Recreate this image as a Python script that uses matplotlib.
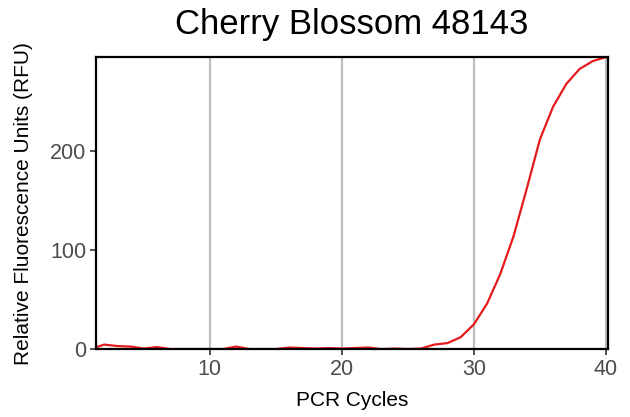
import matplotlib.pyplot as plt

plt.rcParams['font.family'] = ['Liberation Sans', 'DejaVu Sans']

# values
cycles = list(range(1, 41))
rfu = [0, 4.5, 3, 2.5, 0.5, 2, 0, 0, 0, 0,
       0, 2.5, 0, 0, 0, 1.5, 1, 0.5, 1, 0.5,
       1, 1.5, 0, 0.5, 0, 0.5, 4.5, 6, 12, 25,
       46, 76, 114, 162, 212, 245, 268, 283, 291, 295]
xticks = [10, 20, 30, 40]
yticks = [0, 100, 200]

fig = plt.figure(figsize=(6.3, 4.17), dpi=100)
ax = fig.add_axes([0.152, 0.163, 0.813, 0.700])

for x in xticks:
    ax.axvline(x, color='#bebebe', lw=1.6, zorder=0)

ax.plot(cycles, rfu, color='#e41a1c', lw=1.6)

ax.set_xlim(1.36, 40.15)
ax.set_ylim(0, 295)
ax.set_xticks(xticks)
ax.set_yticks(yticks)
ax.tick_params(axis='both', colors='#333333', labelcolor='#4d4d4d',
               labelsize=15.5, length=4, width=1.2, pad=3)

for s in ax.spines.values():
    s.set_linewidth(1.6)
    s.set_color('black')

ax.set_title('Cherry Blossom 48143', fontsize=25, pad=17)
ax.set_xlabel('PCR Cycles', fontsize=15, labelpad=8)
ax.set_ylabel('Relative Fluorescence Units (RFU)', fontsize=15, labelpad=12)

plt.savefig('out.png', dpi=100)
plt.close()
